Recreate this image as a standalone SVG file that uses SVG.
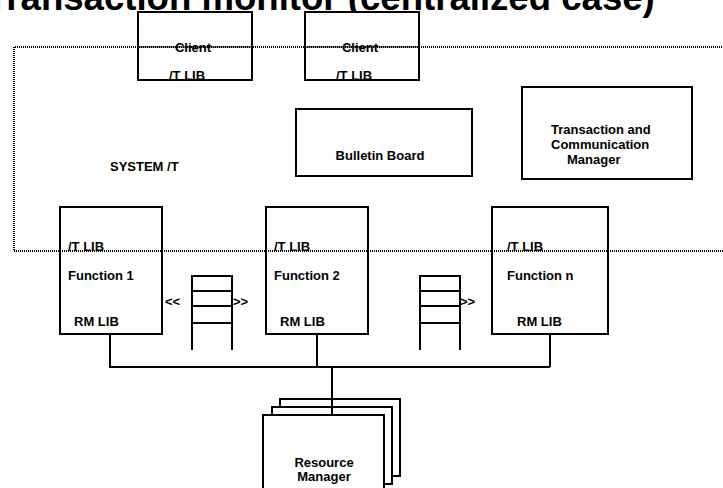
<svg xmlns="http://www.w3.org/2000/svg" width="723" height="488" viewBox="0 0 723 488">
  <style>
    .box { fill: #ffffff; stroke: #000000; stroke-width: 2; }
    .div { stroke: #000000; stroke-width: 1.2; fill: none; }
    .dot { stroke: #000000; stroke-width: 2; fill: none; stroke-dasharray: 1 1; }
    .wire { stroke: #000000; stroke-width: 2; fill: none; }
    .q { stroke: #000000; stroke-width: 2; fill: none; }
    text { font-family: "Liberation Sans", Arial, sans-serif; font-weight: bold; font-size: 13px; fill: #000000; }
    .title { font-size: 36.6px; }
    .mid { text-anchor: middle; }
  </style>

  <rect width="723" height="488" fill="#ffffff"/>

  <!-- slide heading, clipped by the top edge -->
  <text class="title" x="-14" y="10">Transaction monitor (centralized case)</text>

  <!-- clients -->
  <g id="client1">
    <rect class="box" x="138" y="12" width="114" height="68"/>
    <line class="div" x1="138" y1="47" x2="252" y2="47"/>
    <text class="mid" x="193" y="52">Client</text>
    <text x="169" y="80">/T LIB</text>
  </g>
  <g id="client2">
    <rect class="box" x="305" y="12" width="114" height="68"/>
    <line class="div" x1="305" y1="47" x2="419" y2="47"/>
    <text class="mid" x="360" y="52">Client</text>
    <text x="336" y="80">/T LIB</text>
  </g>

  <!-- server side services -->
  <g id="bulletin-board">
    <rect class="box" x="296" y="109" width="176" height="67"/>
    <text class="mid" x="380" y="160">Bulletin Board</text>
  </g>
  <g id="tcm">
    <rect class="box" x="522" y="87" width="170" height="92"/>
    <text x="551" y="134">Transaction and</text>
    <text x="551" y="149">Communication</text>
    <text x="567" y="164">Manager</text>
  </g>

  <!-- functions -->
  <g id="function1">
    <rect class="box" x="60" y="207" width="102" height="127"/>
    <text x="68" y="251">/T LIB</text>
    <text x="68" y="280">Function 1</text>
    <text x="74" y="326">RM LIB</text>
  </g>
  <g id="function2">
    <rect class="box" x="266" y="207" width="102" height="127"/>
    <text x="274" y="251">/T LIB</text>
    <text x="274" y="280">Function 2</text>
    <text x="280" y="326">RM LIB</text>
  </g>
  <g id="functionn">
    <rect class="box" x="492" y="207" width="116" height="127"/>
    <text x="507" y="251">/T LIB</text>
    <text x="507" y="280">Function n</text>
    <text x="517" y="326">RM LIB</text>
  </g>

  <!-- message queues -->
  <g id="queue1">
    <path class="q" d="M192,350 V276 H232 V350 M192,291 H232 M192,306 H232 M192,323 H232"/>
    <text x="165" y="306">&lt;&lt;</text>
    <text x="233" y="306">&gt;&gt;</text>
  </g>
  <g id="queue2">
    <path class="q" d="M420,350 V276 H460 V350 M420,291 H460 M420,306 H460 M420,323 H460"/>
    <text x="460" y="306">&gt;&gt;</text>
  </g>

  <!-- resource managers (stacked) -->
  <g id="resource-manager">
    <rect class="box" x="280" y="399" width="120" height="77"/>
    <rect class="box" x="272" y="407" width="120" height="77"/>
    <rect class="box" x="263" y="415" width="121" height="80"/>
    <text class="mid" x="324" y="467">Resource</text>
    <text class="mid" x="324" y="481">Manager</text>
  </g>

  <!-- SYSTEM /T boundary -->
  <g id="system-t">
    <path class="dot" d="M724,47 H14 V251 H724"/>
    <text x="110" y="171">SYSTEM /T</text>
  </g>

  <!-- connectors -->
  <g id="connectors">
    <path class="wire" d="M110,334 V367 H550 M317,334 V367 M550,334 V367 M332,367 V415"/>
  </g>
</svg>
